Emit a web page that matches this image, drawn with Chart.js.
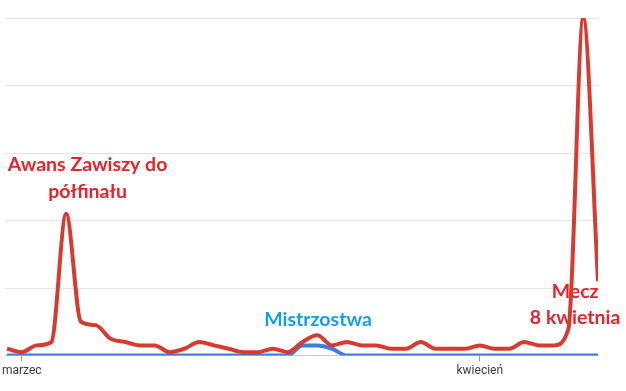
<!DOCTYPE html>
<html>
<head>
<meta charset="utf-8">
<script src="https://cdn.jsdelivr.net/npm/chart.js@4"></script>
<style>
html,body{margin:0;padding:0;background:#fff;}
#wrap{width:626px;height:391px;position:relative;}
</style>
</head>
<body>
<div id="wrap"><canvas id="c" width="626" height="391"></canvas></div>
<script>
// Days from 28 Feb to 9 Apr
const categories = ['28.02','01.03','02.03','03.03','04.03','05.03','06.03','07.03','08.03','09.03',
  '10.03','11.03','12.03','13.03','14.03','15.03','16.03','17.03','18.03','19.03',
  '20.03','21.03','22.03','23.03','24.03','25.03','26.03','27.03','28.03','29.03',
  '30.03','31.03','01.04','02.04','03.04','04.04','05.04','06.04','07.04','08.04','09.04'];
const zawiszaValues = [2,1,3,4,42,10,9,5,4,3,3,1,2,4,3,2,1,1,2,1,4,6,3,4,3,3,2,2,4,2,2,2,3,2,2,4,3,3,8,100,22];
const mistrzostwaValues = [0,0,0,0,0,0,0,0,0,0,0,0,0,0,0,0,0,0,0,0,3,3,2,0,0,0,0,0,0,0,0,0,0,0,0,0,0,0,0,0,0];
const tickLabels = ['marzec','kwiecień'];
const tickCategories = ['01.03','01.04'];
const noteTexts = [['Awans Zawiszy do','półfinału'],['Mistrzostwa'],['Mecz','8 kwietnia']];

const tickIdx = tickCategories.map(c => categories.indexOf(c));
const toPts = arr => arr.map((v,i) => ({x:i, y:v}));

const notes = [
  {text: noteTexts[0], x: 5.45, y: [56.5, 48.6], color: '#e8232c'},
  {text: noteTexts[1], x: 21.05, y: [10.7], color: '#14a1e4'},
  {text: noteTexts[2], x: 38.45, y: [18.8, 11.1], color: '#e8232c'}
];

const notePlugin = {
  id: 'notes',
  beforeDatasetsDraw(chart) {
    const ctx = chart.ctx, xs = chart.scales.x, ys = chart.scales.y;
    ctx.save();
    ctx.font = 'bold 19.5px Lato';
    ctx.textAlign = 'center';
    ctx.textBaseline = 'middle';
    notes.forEach(n => {
      ctx.fillStyle = n.color;
      n.text.forEach((t, k) => {
        ctx.fillText(t, xs.getPixelForValue(n.x), ys.getPixelForValue(n.y[k]));
      });
    });
    ctx.restore();
  }
};

new Chart(document.getElementById('c'), {
  type: 'line',
  data: {
    datasets: [
      {label: 'Zawisza', data: toPts(zawiszaValues), borderColor: '#d83a2f', borderWidth: 4,
       pointRadius: 0, cubicInterpolationMode: 'monotone', fill: false},
      {label: 'Mistrzostwa', data: toPts(mistrzostwaValues), borderColor: '#3f7be0', borderWidth: 4,
       pointRadius: 0, cubicInterpolationMode: 'monotone', fill: false}
    ]
  },
  options: {
    responsive: false,
    animation: false,
    devicePixelRatio: 1,
    layout: {autoPadding: false, padding: {left: 0, right: 28, top: 18, bottom: 0}},
    plugins: {legend: {display: false}, tooltip: {enabled: false}},
    scales: {
      x: {
        type: 'linear', min: -0.13, max: 40,
        afterBuildTicks: s => { s.ticks = tickIdx.map(v => ({value: v})); },
        afterFit: s => { s.height = 35.5; },
        ticks: {
          autoSkip: false, maxRotation: 0, padding: 2,
          color: '#3c3c3c', font: {family: 'Roboto', size: 12},
          callback: (v) => tickLabels[tickIdx.indexOf(v)] || ''
        },
        grid: {drawOnChartArea: false, drawTicks: true, tickLength: 6, color: '#9e9e9e'},
        border: {display: true, color: '#c8c8c8', width: 1}
      },
      y: {
        min: 0, max: 100,
        afterBuildTicks: s => { s.ticks = [0,20,40,60,80,100].map(v => ({value: v})); },
        afterFit: s => { s.width = 0; },
        ticks: {display: false},
        grid: {color: '#e6e6e6', drawTicks: false},
        border: {display: false}
      }
    }
  },
  plugins: [notePlugin]
});
</script>
</body>
</html>
